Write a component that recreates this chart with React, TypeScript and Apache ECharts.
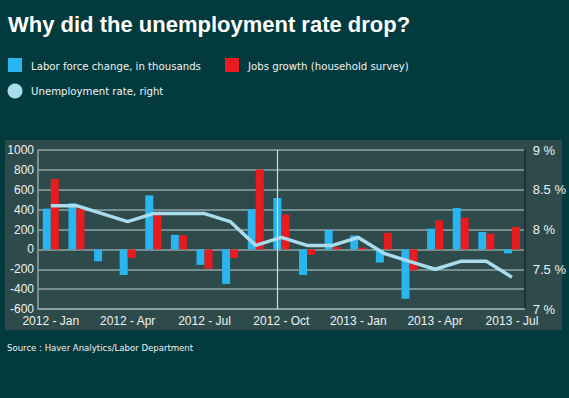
import React, { useEffect, useRef } from "react";
import * as echarts from "echarts";

const categories = [
  "2012 - Jan", "2012 - Feb", "2012 - Mar", "2012 - Apr", "2012 - May", "2012 - Jun",
  "2012 - Jul", "2012 - Aug", "2012 - Sep", "2012 - Oct", "2012 - Nov", "2012 - Dec",
  "2013 - Jan", "2013 - Feb", "2013 - Mar", "2013 - Apr", "2013 - May", "2013 - Jun", "2013 - Jul",
];
const laborForce = [410, 465, -120, -258, 543, 146, -156, -348, 404, 517, -258, 195, 139, -132, -497, 209, 417, 175, -40];
const jobsGrowth = [708, 410, 0, -86, 344, 142, -195, -86, 805, 351, -53, 23, 17, 166, -212, 291, 318, 159, 225];
const unemploymentRate = [8.3, 8.3, 8.2, 8.1, 8.2, 8.2, 8.2, 8.1, 7.8, 7.9, 7.8, 7.8, 7.9, 7.7, 7.6, 7.5, 7.6, 7.6, 7.4];
const leftTicks = { min: -600, max: 1000, interval: 200 };
const rightTicks = { min: 7, max: 9, interval: 0.5 };
const markerCategory = "2012 - Oct";

const BG = "#033a3e";
const PANEL = "#2f4a4b";
const GRID = "#8fa6a6";
const BLUE = "#29b6f0";
const RED = "#e81c1f";
const LINE = "#a9dcec";
const TEXT = "#eef3f3";
const SMALL_FONT = "'DejaVu Sans Condensed', 'DejaVu Sans'";

export default function App() {
  const ref = useRef<HTMLDivElement>(null);
  useEffect(() => {
    if (!ref.current) return;
    document.body.style.margin = "0";
    const chart = echarts.init(ref.current, null, { renderer: "svg" });
    chart.setOption({
      animation: false,
      backgroundColor: BG,
      textStyle: { fontFamily: "Liberation Sans" },
      graphic: [
        { type: "rect", z: -10, shape: { x: 5, y: 140, width: 557, height: 190 }, style: { fill: PANEL } },
        {
          type: "text", x: 8, y: 24,
          style: { text: "Why did the unemployment rate drop?", fill: "#ffffff", font: "bold 22px 'Liberation Sans'", verticalAlign: "middle" },
        },
        { type: "rect", shape: { x: 8, y: 58, width: 14, height: 14 }, style: { fill: BLUE } },
        { type: "text", x: 31, y: 66, style: { text: "Labor force change, in thousands", fill: TEXT, font: `11.3px ${SMALL_FONT}`, verticalAlign: "middle" } },
        { type: "rect", shape: { x: 225, y: 58, width: 14, height: 14 }, style: { fill: RED } },
        { type: "text", x: 248, y: 66, style: { text: "Jobs growth (household survey)", fill: TEXT, font: `11.3px ${SMALL_FONT}`, verticalAlign: "middle" } },
        { type: "circle", shape: { cx: 15, cy: 91, r: 7.5 }, style: { fill: LINE } },
        { type: "text", x: 31, y: 91, style: { text: "Unemployment rate, right", fill: TEXT, font: `11.3px ${SMALL_FONT}`, verticalAlign: "middle" } },
        { type: "text", x: 7, y: 347, style: { text: "Source : Haver Analytics/Labor Department", fill: TEXT, font: `9.5px ${SMALL_FONT}`, verticalAlign: "middle" } },
      ],
      grid: { left: 38, right: 43, top: 150, bottom: 89 },
      xAxis: {
        type: "category",
        data: categories,
        boundaryGap: true,
        axisLine: { show: true, onZero: false, lineStyle: { color: GRID, width: 1.5 } },
        axisTick: { show: false },
        axisLabel: { interval: 2, color: TEXT, fontSize: 12, margin: 6, fontFamily: "Liberation Sans" },
        splitLine: { show: false },
      },
      yAxis: [
        {
          type: "value",
          min: leftTicks.min, max: leftTicks.max, interval: leftTicks.interval,
          axisLine: { show: true, lineStyle: { color: GRID, width: 1.5 } },
          axisTick: { show: false },
          axisLabel: { color: TEXT, fontSize: 12, margin: 4, fontFamily: "Liberation Sans", formatter: (v: number) => String(v) },
          splitLine: { show: true, lineStyle: { color: GRID, width: 1.5 } },
        },
        {
          type: "value",
          min: rightTicks.min, max: rightTicks.max, interval: rightTicks.interval,
          axisLine: { show: true, lineStyle: { color: "#1c3333", width: 2 } },
          axisTick: { show: false },
          axisLabel: { color: TEXT, fontSize: 13, margin: 8, fontFamily: "Liberation Sans", formatter: (v: number) => `${v} %` },
          splitLine: { show: false },
        },
      ],
      series: [
        {
          name: "Labor force change, in thousands",
          type: "bar",
          data: laborForce,
          barWidth: 8,
          barGap: "0%",
          itemStyle: { color: BLUE },
          markLine: {
            silent: true,
            symbol: "none",
            label: { show: false },
            lineStyle: { color: "#d0dede", width: 1.2, type: "solid" },
            data: [{ xAxis: markerCategory }],
          },
        },
        {
          name: "Jobs growth (household survey)",
          type: "bar",
          data: jobsGrowth,
          barWidth: 8,
          barGap: "0%",
          itemStyle: { color: RED },
        },
        {
          name: "Unemployment rate, right",
          type: "line",
          yAxisIndex: 1,
          data: unemploymentRate,
          showSymbol: false,
          symbol: "none",
          lineStyle: { color: LINE, width: 3.5 },
          z: 5,
        },
      ],
    });
    return () => chart.dispose();
  }, []);
  return <div ref={ref} style={{ position: "fixed", left: 0, top: 0, width: 569, height: 398 }} />;
}
